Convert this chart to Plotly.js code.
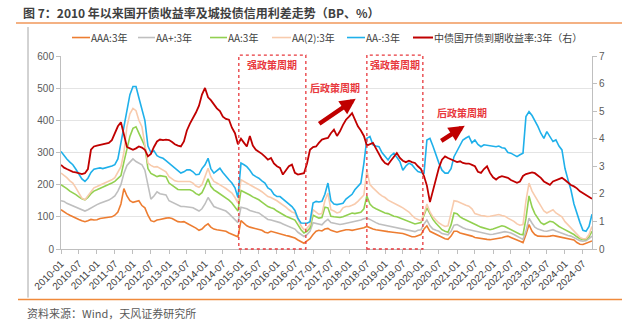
<!DOCTYPE html>
<html>
<head>
<meta charset="utf-8">
<script src="https://cdn.plot.ly/plotly-3.0.1.min.js"></script>
<style>html,body{margin:0;padding:0;background:#fff;}#chart{width:622px;height:323px;}</style>
</head>
<body>
<div id="chart"></div>
<script>
// Monthly observations, 2010-01 .. 2024-10
const startYear = 2010, startMonth = 1, nMonths = 178;
const dates = [];
for (let i = 0; i < nMonths; i++) {
  const y = startYear + Math.floor((startMonth - 1 + i) / 12);
  const m = ((startMonth - 1 + i) % 12) + 1;
  dates.push(y + '-' + String(m).padStart(2, '0') + '-01');
}

const chartTitle = '图 7：2010 年以来国开债收益率及城投债信用利差走势（BP、%）';
const sourceNote = '资料来源：Wind，天风证券研究所';
const seriesNames = ['AAA:3年', 'AA+:3年', 'AA:3年', 'AA(2):3年', 'AA-:3年', '中债国开债到期收益率:3年（右）'];

// AAA:3年 (BP)
const aaa = [
  122,115,110,105,100,95,92,88,85,88,92,90,
  91,95,96,98,100,100,105,115,140,188,165,150,
  145,148,150,135,128,105,88,85,90,92,95,96,
  97,95,90,85,84,85,80,75,72,65,58,62,
  72,78,68,62,60,58,56,55,50,46,42,38,
  88,80,72,68,65,62,60,58,52,50,55,52,
  50,48,45,42,40,38,34,28,22,18,25,32,
  45,55,58,56,62,64,58,55,52,55,58,60,
  60,58,60,62,63,66,70,65,62,60,58,56,
  55,54,53,52,52,50,48,45,42,38,38,42,
  45,62,72,55,50,45,42,35,32,30,40,55,
  55,50,48,46,44,40,36,34,33,32,30,29,
  30,31,33,35,38,40,36,33,28,24,20,45,
  76,55,45,40,39,38,39,40,42,40,38,36,
  34,32,30,28,20,15,14,18,20,25
];
// AA+:3年 (BP)
const aaPlus = [
  150,148,142,138,132,128,124,120,118,122,128,132,
  138,142,145,148,152,158,165,180,200,235,260,270,
  280,272,268,262,245,200,155,165,178,172,170,168,
  150,145,140,135,132,132,132,130,128,122,118,125,
  140,160,145,132,128,125,122,118,110,100,92,82,
  130,128,125,120,116,114,112,105,98,92,90,88,
  85,82,78,74,70,66,62,52,44,39,45,55,
  82,80,76,75,85,92,82,80,78,76,78,80,
  80,82,84,86,90,94,96,92,86,82,78,76,
  74,70,68,66,64,62,60,58,56,54,54,58,
  60,78,90,72,62,58,55,48,45,44,55,74,
  76,70,66,62,60,58,55,52,50,48,46,45,
  46,48,50,52,54,52,50,45,40,35,30,55,
  96,80,68,62,58,56,55,58,60,56,52,48,
  45,42,40,35,30,26,24,26,32,40
];
// AA:3年 (BP)
const aa = [
  200,195,188,180,175,169,162,156,153,160,172,180,
  184,188,192,196,200,205,210,218,228,270,310,350,
  375,380,360,340,320,250,235,230,225,228,226,225,
  205,198,190,185,184,184,185,184,180,172,168,175,
  195,218,195,184,178,172,165,160,152,143,130,118,
  182,178,172,168,162,158,153,146,138,132,128,125,
  118,112,108,102,98,94,90,75,60,50,55,65,
  105,100,96,98,130,128,102,100,98,98,100,104,
  110,112,110,112,114,125,165,140,130,125,120,115,
  112,110,106,102,100,96,92,88,84,80,78,80,
  82,105,128,110,92,80,70,60,55,52,75,112,
  110,100,95,90,86,82,76,72,68,65,62,60,
  62,66,68,72,70,65,60,56,50,46,44,95,
  165,130,110,95,82,76,80,86,84,76,70,65,
  60,56,52,45,38,32,30,30,38,55
];
// AA(2):3年 (BP)
const aa2 = [
  236,230,222,212,205,190,172,158,153,165,180,190,
  194,198,202,206,210,215,222,240,256,300,380,420,
  437,430,400,380,330,267,260,255,256,250,246,240,
  225,218,212,210,210,212,210,210,205,196,192,200,
  225,251,225,210,205,198,194,188,182,174,160,143,
  215,210,204,200,195,190,184,178,170,163,160,156,
  150,143,138,130,122,115,112,92,72,60,65,75,
  122,115,108,110,150,174,122,118,112,115,128,132,
  132,136,140,148,158,168,245,200,190,180,172,165,
  160,152,148,142,138,133,128,122,115,105,96,92,
  88,110,140,115,100,90,81,75,70,72,110,150,
  148,143,140,136,133,125,110,106,104,103,101,102,
  104,106,107,104,102,96,91,86,78,74,76,150,
  205,180,165,150,132,118,112,118,122,112,105,100,
  85,75,68,58,45,36,32,32,45,70
];
// AA-:3年 (BP)
const aaMinus = [
  303,290,280,270,262,248,232,218,210,220,238,248,
  250,252,250,252,255,258,262,280,330,380,440,480,
  505,505,470,430,400,320,300,305,290,285,282,275,
  267,258,251,244,236,240,246,246,240,231,232,250,
  262,282,250,236,244,251,238,225,215,205,190,160,
  267,262,256,245,231,225,220,212,205,190,184,170,
  163,163,155,148,140,132,120,95,81,81,80,85,
  143,148,146,148,170,205,150,140,138,140,142,155,
  163,170,184,195,205,267,344,350,324,320,318,300,
  287,277,290,298,285,272,245,258,267,262,250,241,
  238,236,339,344,320,290,267,245,236,236,250,287,
  305,320,339,345,350,330,339,325,318,324,322,320,
  318,318,320,315,313,300,298,292,287,293,298,412,
  427,415,400,381,360,344,365,350,334,339,320,308,
  250,215,184,140,110,82,58,55,70,108
];
// 中债国开债到期收益率:3年 (%, right axis)
const cdb3y = [
  3.05,2.95,2.90,2.85,2.80,2.78,2.75,2.72,2.75,2.90,3.60,3.72,
  3.75,3.78,3.80,3.82,3.85,3.95,4.20,4.45,4.60,4.20,3.70,3.65,
  3.60,3.65,3.72,3.68,3.60,3.36,3.45,3.70,3.90,3.97,3.95,3.97,
  3.95,3.88,3.80,3.75,3.72,3.90,4.30,4.55,4.75,4.95,5.20,5.60,
  5.84,5.50,5.40,5.24,5.10,5.00,4.80,4.72,4.69,4.40,4.20,3.80,
  4.00,3.85,3.72,4.10,3.75,3.60,3.54,3.45,3.35,3.24,3.30,3.10,
  3.00,2.94,2.70,2.85,3.00,3.06,2.76,2.70,2.72,2.75,3.10,3.60,
  3.70,3.72,3.85,3.97,4.00,4.03,4.20,4.33,4.10,4.27,4.50,4.69,
  4.80,4.93,4.70,4.45,4.30,4.10,3.75,3.80,3.85,3.65,3.45,3.25,
  3.12,3.06,3.20,3.36,3.48,3.30,3.20,3.15,3.20,3.15,3.12,3.00,
  2.90,2.64,2.30,1.70,2.10,2.60,2.95,3.24,3.36,3.30,3.24,3.20,
  3.15,3.18,3.12,3.10,3.10,3.05,3.00,2.80,2.76,2.90,3.00,2.76,
  2.60,2.52,2.60,2.64,2.60,2.58,2.50,2.45,2.40,2.45,2.65,2.72,
  2.76,2.78,2.75,2.68,2.58,2.45,2.39,2.33,2.45,2.50,2.55,2.58,
  2.50,2.39,2.32,2.27,2.20,2.09,2.02,1.97,1.90,1.82
];

const colors = ['#ED7D31', '#BFBFBF', '#92D050', '#F8CBAD', '#1FB0EA', '#C00000'];
const leftSeries = [aaa, aaPlus, aa, aa2, aaMinus];

const FONT = 'Liberation Sans, Noto Sans CJK SC, sans-serif';
const CJK = 'Noto Sans CJK SC, sans-serif';

// page-pixel helpers for the frame (plot area: x 61..592, y 56..249.3)
const PL = 61, PW = 531, PB = 249.3, PH = 193.3;
const px = v => (v - PL) / PW;
const py = v => (PB - v) / PH;

const traces = leftSeries.map((s, i) => ({
  type: 'scatter', mode: 'lines', name: seriesNames[i], x: dates, y: s,
  line: {color: colors[i], width: 1.6}, yaxis: 'y', showlegend: false
}));
traces.push({
  type: 'scatter', mode: 'lines', name: seriesNames[5], x: dates, y: cdb3y,
  line: {color: colors[5], width: 1.8}, yaxis: 'y2', showlegend: false
});

// legend drawn as line keys + labels (page-pixel positions)
const legLines = [[72, 90], [138, 155], [210, 227], [272, 291], [347, 365], [413, 433]];
const legTextX = [91, 156, 228, 292, 366, 434];
const legY = 37.5;

const red = '#E8383D';
const shapes = [
  {type: 'line', xref: 'paper', yref: 'paper', x0: px(16), x1: px(622), y0: py(23), y1: py(23),
   line: {color: '#F4B183', width: 2}},
  {type: 'line', xref: 'paper', yref: 'paper', x0: px(18), x1: px(622), y0: py(300), y1: py(300),
   line: {color: '#F08A3C', width: 1.5}},
  {type: 'line', xref: 'paper', yref: 'paper', x0: px(28), x1: px(28), y0: py(298), y1: py(27),
   line: {color: '#A6A6A6', width: 1}},
  {type: 'rect', xref: 'x', yref: 'paper', x0: '2014-12-10', x1: '2016-10-20', y0: 0, y1: 1.005,
   line: {color: red, width: 1.3, dash: 'dot'}},
  {type: 'rect', xref: 'x', yref: 'paper', x0: '2018-07-01', x1: '2020-01-20', y0: 0, y1: 1.005,
   line: {color: red, width: 1.3, dash: 'dot'}}
];
const annotations = [
  {xref: 'paper', yref: 'paper', x: px(22), y: py(12), xanchor: 'left', yanchor: 'middle',
   text: chartTitle, showarrow: false, borderpad: 0,
   font: {family: CJK, size: 12, color: '#404040', weight: 'bold'}},
  {xref: 'x', yref: 'y', x: '2015-11-10', y: 573, text: '<b>强政策周期</b>', showarrow: false,
   font: {family: CJK, size: 10, color: red}},
  {xref: 'x', yref: 'y', x: '2019-04-10', y: 573, text: '<b>强政策周期</b>', showarrow: false,
   font: {family: CJK, size: 10, color: red}},
  {xref: 'x', yref: 'y', x: '2017-08-10', y: 501, text: '<b>后政策周期</b>', showarrow: false,
   font: {family: CJK, size: 10, color: red}},
  {xref: 'x', yref: 'y', x: '2021-02-20', y: 423, text: '<b>后政策周期</b>', showarrow: false,
   font: {family: CJK, size: 10, color: red}},
  {xref: 'x', yref: 'y', x: '2018-03-10', y: 467, text: '', showarrow: true,
   ax: -38, ay: 26, arrowhead: 2, arrowsize: 0.7, arrowwidth: 4.5, arrowcolor: '#C00000'},
  {xref: 'x', yref: 'y', x: '2021-03-20', y: 383, text: '', showarrow: true,
   ax: -25, ay: 16, arrowhead: 2, arrowsize: 0.7, arrowwidth: 4.5, arrowcolor: '#C00000'},
  {xref: 'paper', yref: 'paper', x: px(25), y: py(313), xanchor: 'left', yanchor: 'middle',
   text: sourceNote, showarrow: false,
   font: {family: CJK, size: 11, color: '#595959'}}
];
seriesNames.forEach((n, i) => {
  shapes.push({type: 'line', xref: 'paper', yref: 'paper', x0: px(legLines[i][0]), x1: px(legLines[i][1]),
    y0: py(legY), y1: py(legY), line: {color: colors[i], width: i === 5 ? 2 : 1.6}});
  annotations.push({xref: 'paper', yref: 'paper', x: px(legTextX[i] - 1), y: py(legY), xanchor: 'left', yanchor: 'middle',
    text: n, showarrow: false, borderpad: 0, font: {family: CJK, size: 10, color: '#404040'}});
});

const layout = {
  width: 622, height: 323,
  margin: {l: 61, r: 30, t: 56, b: 74, pad: 0},
  paper_bgcolor: '#ffffff', plot_bgcolor: '#ffffff',
  font: {family: FONT, size: 10, color: '#595959'},
  title: {text: ''},
  showlegend: false,
  xaxis: {
    type: 'date', range: ['2010-01-01', '2024-10-01'],
    tick0: '2010-01-01', dtick: 'M6', tickformat: '%Y-%m',
    tickangle: -45, ticks: 'outside', ticklen: 4, tickcolor: '#BFBFBF',
    showline: true, linecolor: '#BFBFBF', linewidth: 1,
    showgrid: false, zeroline: false,
    tickfont: {family: FONT, size: 10, color: '#404040'}
  },
  yaxis: {
    range: [0, 600], dtick: 100, tick0: 0,
    showgrid: true, gridcolor: '#E4E4E4', gridwidth: 1,
    showline: true, linecolor: '#BFBFBF', linewidth: 1,
    ticks: 'outside', ticklen: 4, tickcolor: '#BFBFBF',
    zeroline: false, tickfont: {family: FONT, size: 10, color: '#595959'}
  },
  yaxis2: {
    overlaying: 'y', side: 'right', range: [0, 7], dtick: 1, tick0: 0,
    showgrid: false, showline: true, linecolor: '#BFBFBF', linewidth: 1,
    ticks: 'outside', ticklen: 4, tickcolor: '#BFBFBF',
    zeroline: false, tickfont: {family: FONT, size: 10, color: '#595959'}
  },
  shapes: shapes,
  annotations: annotations
};

Plotly.newPlot('chart', traces, layout, {displayModeBar: false, staticPlot: true});
</script>
</body>
</html>
